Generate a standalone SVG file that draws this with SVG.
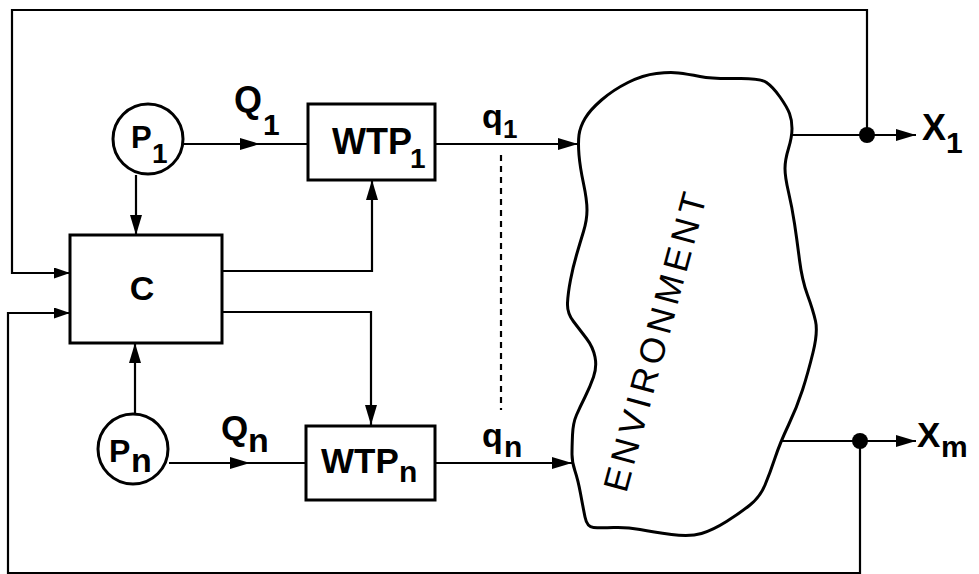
<svg xmlns="http://www.w3.org/2000/svg" width="979" height="574" viewBox="0 0 979 574">
<style>
.ln{fill:none;stroke:#000;stroke-width:2.2}
.bx{fill:#fff;stroke:#000;stroke-width:3}
.t{font-family:"Liberation Sans",Arial,sans-serif;fill:#000;font-weight:bold}
</style>
<defs>
<marker id="ah" markerWidth="20" markerHeight="12" refX="20" refY="6" orient="auto" markerUnits="userSpaceOnUse">
<path d="M0,0 L20,6 L0,12 z" fill="#000"/>
</marker>
<marker id="as" markerWidth="16" markerHeight="11" refX="16" refY="5.5" orient="auto" markerUnits="userSpaceOnUse">
<path d="M0,0 L16,5.5 L0,11 z" fill="#000"/>
</marker>
</defs>
<rect width="979" height="574" fill="#fff"/>
<g id="connectors">
<path class="ln" d="M867,135 V10 H12 V273 H70" marker-end="url(#as)"/>
<path class="ln" d="M860,441 V573 H8 V313 H70" marker-end="url(#as)"/>
<path class="ln" d="M136,175 V235" marker-end="url(#ah)"/>
<path class="ln" d="M135,413 V343" marker-end="url(#ah)"/>
<path class="ln" d="M184,144 H260" marker-end="url(#ah)"/>
<path class="ln" d="M258,144 H308"/>
<path class="ln" d="M169,463 H250" marker-end="url(#ah)"/>
<path class="ln" d="M248,463 H306"/>
<path class="ln" d="M222,271 H372 V180" marker-end="url(#ah)"/>
<path class="ln" d="M222,312 H371 V425" marker-end="url(#ah)"/>
<path class="ln" d="M435,144 H578" marker-end="url(#ah)"/>
<path class="ln" d="M435,463 H572" marker-end="url(#ah)"/>
<path class="ln" d="M501,155 V410" stroke-dasharray="6,5"/>
<path class="ln" d="M792,135 H916" marker-end="url(#ah)"/>
<path class="ln" d="M781,441 H916" marker-end="url(#ah)"/>
<circle cx="867" cy="135" r="8" fill="#000"/>
<circle cx="860" cy="441" r="8" fill="#000"/>
</g>
<g id="P1">
<circle class="bx" cx="148" cy="139" r="35"/>
<text class="t" x="131" y="148" font-size="31">P</text>
<text class="t" x="152" y="163" font-size="28">1</text>
</g>
<g id="Pn">
<circle class="bx" cx="133" cy="449" r="35"/>
<text class="t" x="109" y="462" font-size="32">P</text>
<text class="t" x="131" y="472" font-size="34">n</text>
</g>
<g id="C">
<rect class="bx" x="70" y="235" width="152" height="108"/>
<text class="t" x="142" y="300" font-size="34" text-anchor="middle">C</text>
</g>
<g id="WTP1">
<rect class="bx" x="308" y="104" width="127" height="76"/>
<text class="t" x="332" y="154" font-size="36">WTP</text>
<text class="t" x="410" y="168" font-size="28">1</text>
</g>
<g id="WTPn">
<rect class="bx" x="306" y="426" width="129" height="74"/>
<text class="t" x="321" y="473" font-size="35">WTP</text>
<text class="t" x="399" y="482" font-size="30">n</text>
</g>
<g id="environment">
<path fill="#fff" stroke="#000" stroke-width="3" stroke-linejoin="round" d="M579,155 Q578,143 579,135 Q580,127 585,118.5 Q590,110 601.5,100 Q613,90 628,82.5 Q643,75 656.5,73.5 Q670,72 678.5,73 Q687,74 700,76.5 Q713,79 736.5,78.5 Q760,78 766.5,82.5 Q773,87 780,97 Q787,107 789.5,113.5 Q792,120 792,128.5 Q792,137 788.5,148.5 Q785,160 785,168.5 Q785,177 788.5,192 Q792,207 794.5,223.5 Q797,240 799.5,260 Q802,280 807.5,295 Q813,310 815.5,321 Q818,332 813,352.5 Q808,373 802.5,390 Q797,407 788.5,425 Q780,443 775,458 Q770,473 765,485 Q760,497 750,505 Q740,513 726.5,521.5 Q713,530 701.5,533.5 Q690,537 671.5,534.5 Q653,532 640,529.5 Q627,527 613.5,527.5 Q600,528 593.5,527.5 Q587,527 585,517 Q583,507 580.5,493.5 Q578,480 575,471 Q572,462 572,454.5 Q572,447 572.5,435 Q573,423 576.5,415 Q580,407 585,397 Q590,387 593.5,377 Q597,367 595,357 Q593,347 586.5,338.5 Q580,330 573.5,321.5 Q567,313 567.5,303 Q568,293 570.5,280 Q573,267 576.5,255 Q580,243 583.5,231.5 Q587,220 587,210 Q587,200 583.5,183.5 Q580,167 579,155 Z"/>
<text class="t" font-size="35" text-anchor="middle" textLength="308" lengthAdjust="spacing" transform="translate(655,342) rotate(-74.8)" x="0" y="12" style="font-weight:normal">ENVIRONMENT</text>
</g>
<g id="labels">
<text class="t" x="234" y="112" font-size="36">Q</text>
<text class="t" x="263" y="135" font-size="30">1</text>
<text class="t" x="221" y="440" font-size="35">Q</text>
<text class="t" x="248" y="452" font-size="34">n</text>
<text class="t" x="482" y="128" font-size="34">q</text>
<text class="t" x="503" y="138" font-size="26">1</text>
<text class="t" x="482" y="447" font-size="34">q</text>
<text class="t" x="504" y="457" font-size="30">n</text>
<text class="t" x="922" y="140" font-size="36">X</text>
<text class="t" x="946" y="153" font-size="30">1</text>
<text class="t" x="917" y="447" font-size="35">X</text>
<text class="t" x="941" y="457" font-size="30">m</text>
</g>
</svg>
